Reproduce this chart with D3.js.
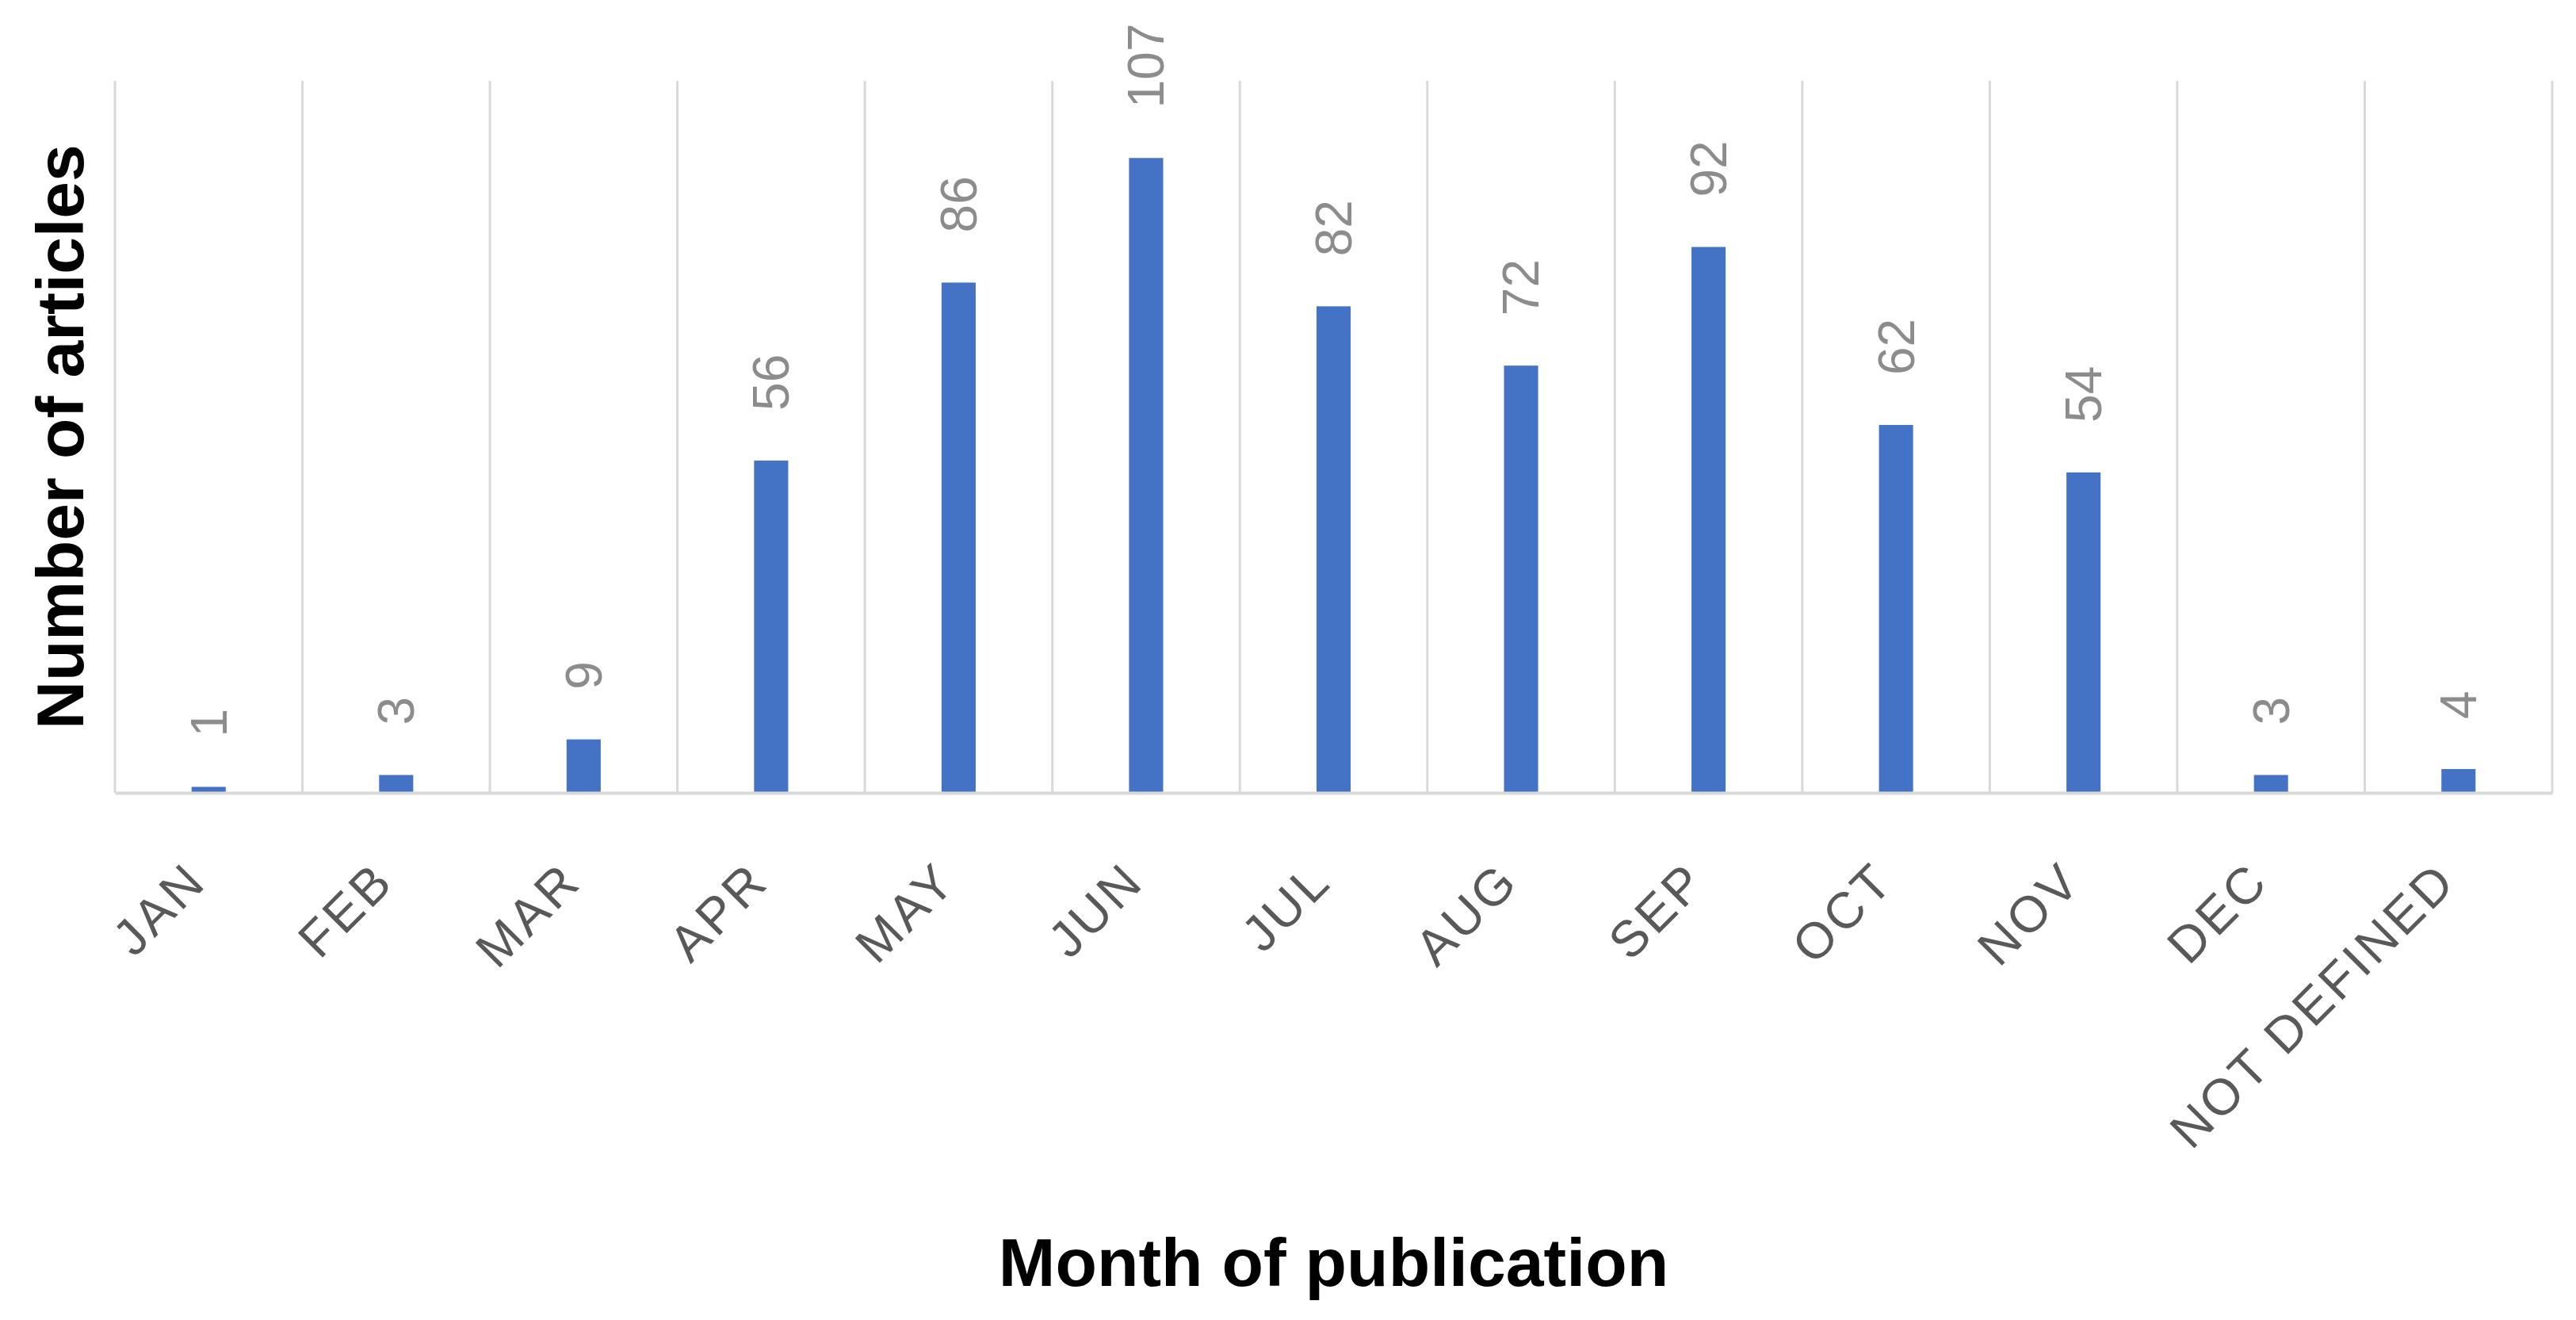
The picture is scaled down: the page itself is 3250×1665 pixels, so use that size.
<!DOCTYPE html>
<html>
<head>
<meta charset="utf-8">
<script src="https://cdn.jsdelivr.net/npm/d3@7"></script>
<style>
  html, body { margin: 0; padding: 0; background: #fff; }
  svg { display: block; }
</style>
</head>
<body>
<svg id="chart" width="3250" height="1665"></svg>
<script>
const categories = ["JAN", "FEB", "MAR", "APR", "MAY", "JUN", "JUL", "AUG", "SEP", "OCT", "NOV", "DEC", "NOT DEFINED"];
const articles = [1, 3, 9, 56, 86, 107, 82, 72, 92, 62, 54, 3, 4];
const yDomain = [0, 120];
const xTitle = "Month of publication";
const yTitle = "Number of articles";

const W = 3250, H = 1665;
const plot = { left: 145, right: 3220, top: 102, bottom: 1000 };

const svg = d3.select("#chart");
svg.append("rect").attr("width", W).attr("height", H).attr("fill", "#fff");

const x = d3.scaleBand().domain(categories).range([plot.left, plot.right]).padding(0);
const y = d3.scaleLinear().domain(yDomain).range([plot.bottom, plot.top]);

// vertical category gridlines
const bounds = categories.map(c => x(c)).concat([plot.right]);
svg.append("g").selectAll("line").data(bounds).join("line")
  .attr("x1", d => d).attr("x2", d => d)
  .attr("y1", plot.top).attr("y2", plot.bottom)
  .attr("stroke", "#d9d9d9").attr("stroke-width", 3);

// bars
const barW = x.bandwidth() * 0.182;
svg.append("g").selectAll("rect").data(categories).join("rect")
  .attr("x", (c) => x(c) + x.bandwidth() / 2 - barW / 2)
  .attr("y", (c, i) => y(articles[i]))
  .attr("width", barW)
  .attr("height", (c, i) => y(0) - y(articles[i]))
  .attr("fill", "#4472C4");

// baseline axis
const xAxis = d3.axisBottom(x).tickSize(0).tickFormat("");
const gx = svg.append("g").attr("transform", `translate(0,${plot.bottom})`).call(xAxis);
gx.select(".domain").attr("stroke", "#d9d9d9").attr("stroke-width", 4);

// value labels
svg.append("g").selectAll("text").data(categories).join("text")
  .attr("transform", (c, i) => `translate(${x(c) + x.bandwidth() / 2},${y(articles[i]) - 63}) rotate(-90)`)
  .attr("dy", "0.35em")
  .attr("text-anchor", "start")
  .attr("font-family", "Liberation Sans, Arial, sans-serif")
  .attr("font-size", 64)
  .attr("fill", "#8c8c8c")
  .text((c, i) => articles[i]);

// category tick labels
svg.append("g").selectAll("text").data(categories).join("text")
  .attr("transform", c => `translate(${x(c) + x.bandwidth() / 2},${plot.bottom + 115}) rotate(-45)`)
  .attr("text-anchor", "end")
  .attr("font-family", "Liberation Sans, Arial, sans-serif")
  .attr("font-size", 64)
  .attr("letter-spacing", 4)
  .attr("fill", "#595959")
  .text(c => c);

// axis titles
svg.append("text")
  .attr("x", (plot.left + plot.right) / 2)
  .attr("y", 1622)
  .attr("text-anchor", "middle")
  .attr("font-family", "Liberation Sans, Arial, sans-serif")
  .attr("font-weight", "bold")
  .attr("font-size", 86)
  .attr("fill", "#000")
  .text(xTitle);

svg.append("text")
  .attr("transform", `translate(105,${(plot.top + plot.bottom) / 2}) rotate(-90)`)
  .attr("text-anchor", "middle")
  .attr("font-family", "Liberation Sans, Arial, sans-serif")
  .attr("font-weight", "bold")
  .attr("font-size", 84)
  .attr("fill", "#000")
  .text(yTitle);
</script>
</body>
</html>
